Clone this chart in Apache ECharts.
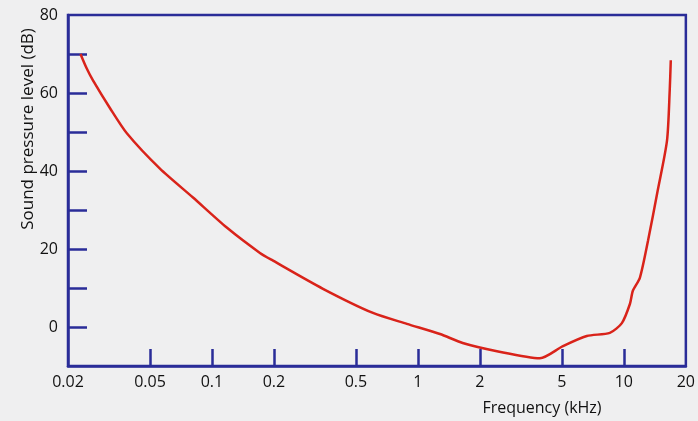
<!DOCTYPE html>
<html>
<head>
<meta charset="utf-8">
<script src="https://cdn.jsdelivr.net/npm/echarts@6/dist/echarts.min.js"></script>
<style>
  html, body { margin: 0; padding: 0; background: #efeff0; }
  #chart { width: 698px; height: 421px; }
</style>
</head>
<body>
<div id="chart"></div>
<script>
// threshold of hearing curve, frequency in kHz, level in dB
const freqs = [0.023, 0.0246, 0.0264, 0.032, 0.0387, 0.0559, 0.0809, 0.118, 0.171, 0.198, 0.346, 0.605, 0.884,
  1.28, 1.65, 2.42, 3.91, 5.06, 6.61, 8.55, 9.78, 10.7, 11.06, 11.96, 13.1, 14.6, 16.2, 16.7, 16.9];
const levels = [70, 66.4, 63.3, 56.1, 49.6, 40.6, 33.2, 25.5, 19.0, 17.0, 9.8, 3.6, 0.8,
  -1.8, -4.1, -6.2, -8.0, -4.9, -2.3, -1.5, 1.0, 5.9, 9.3, 12.6, 22.1, 35.0, 47.8, 60.7, 68.4];

const xLabels = [0.02, 0.05, 0.1, 0.2, 0.5, 1, 2, 5, 10, 20];
const xTicks = [0.05, 0.1, 0.2, 0.5, 1, 2, 5, 10];
const yLabels = [0, 20, 40, 60, 80];
const yTicks = [0, 10, 20, 30, 40, 50, 60, 70];

const blue = '#2a2c98';
const font = '"Open Sans", "Noto Sans", sans-serif';

const chart = echarts.init(document.getElementById('chart'));

chart.setOption({
  backgroundColor: '#efeff0',
  animation: false,
  grid: {
    left: 68, top: 15, right: 12, bottom: 55,
    show: true, borderColor: blue, borderWidth: 2.5, backgroundColor: 'transparent'
  },
  xAxis: {
    type: 'log',
    logBase: 10,
    min: 0.02,
    max: 20,
    axisLine: { onZero: false, lineStyle: { color: blue, width: 2.5 } },
    axisTick: { inside: true, length: 17, customValues: xTicks, lineStyle: { color: blue, width: 2.5 } },
    axisLabel: {
      customValues: xLabels, margin: 8, color: '#111', fontSize: 16, fontFamily: font,
      formatter: v => String(parseFloat(Number(v).toPrecision(4)))
    },
    splitLine: { show: false }
  },
  yAxis: {
    type: 'value',
    min: -10,
    max: 80,
    axisLine: { show: true, lineStyle: { color: blue, width: 2.5 } },
    axisTick: { show: true, inside: true, length: 19, customValues: yTicks, lineStyle: { color: blue, width: 2.5 } },
    axisLabel: { customValues: yLabels, margin: 10, color: '#111', fontSize: 16, fontFamily: font },
    splitLine: { show: false }
  },
  graphic: [
    {
      type: 'text', x: 28, y: 129, rotation: Math.PI / 2,
      style: { text: 'Sound pressure level (dB)', fill: '#111', fontSize: 17, fontFamily: font,
        align: 'center', verticalAlign: 'middle' }
    },
    {
      type: 'text', x: 542, y: 408,
      style: { text: 'Frequency (kHz)', fill: '#111', fontSize: 16, fontFamily: font,
        align: 'center', verticalAlign: 'middle' }
    }
  ],
  series: [{
    type: 'line',
    data: freqs.map((f, i) => [f, levels[i]]),
    smooth: 0.25,
    showSymbol: false,
    lineStyle: { color: '#d9231a', width: 2.5 }
  }]
});
</script>
</body>
</html>
